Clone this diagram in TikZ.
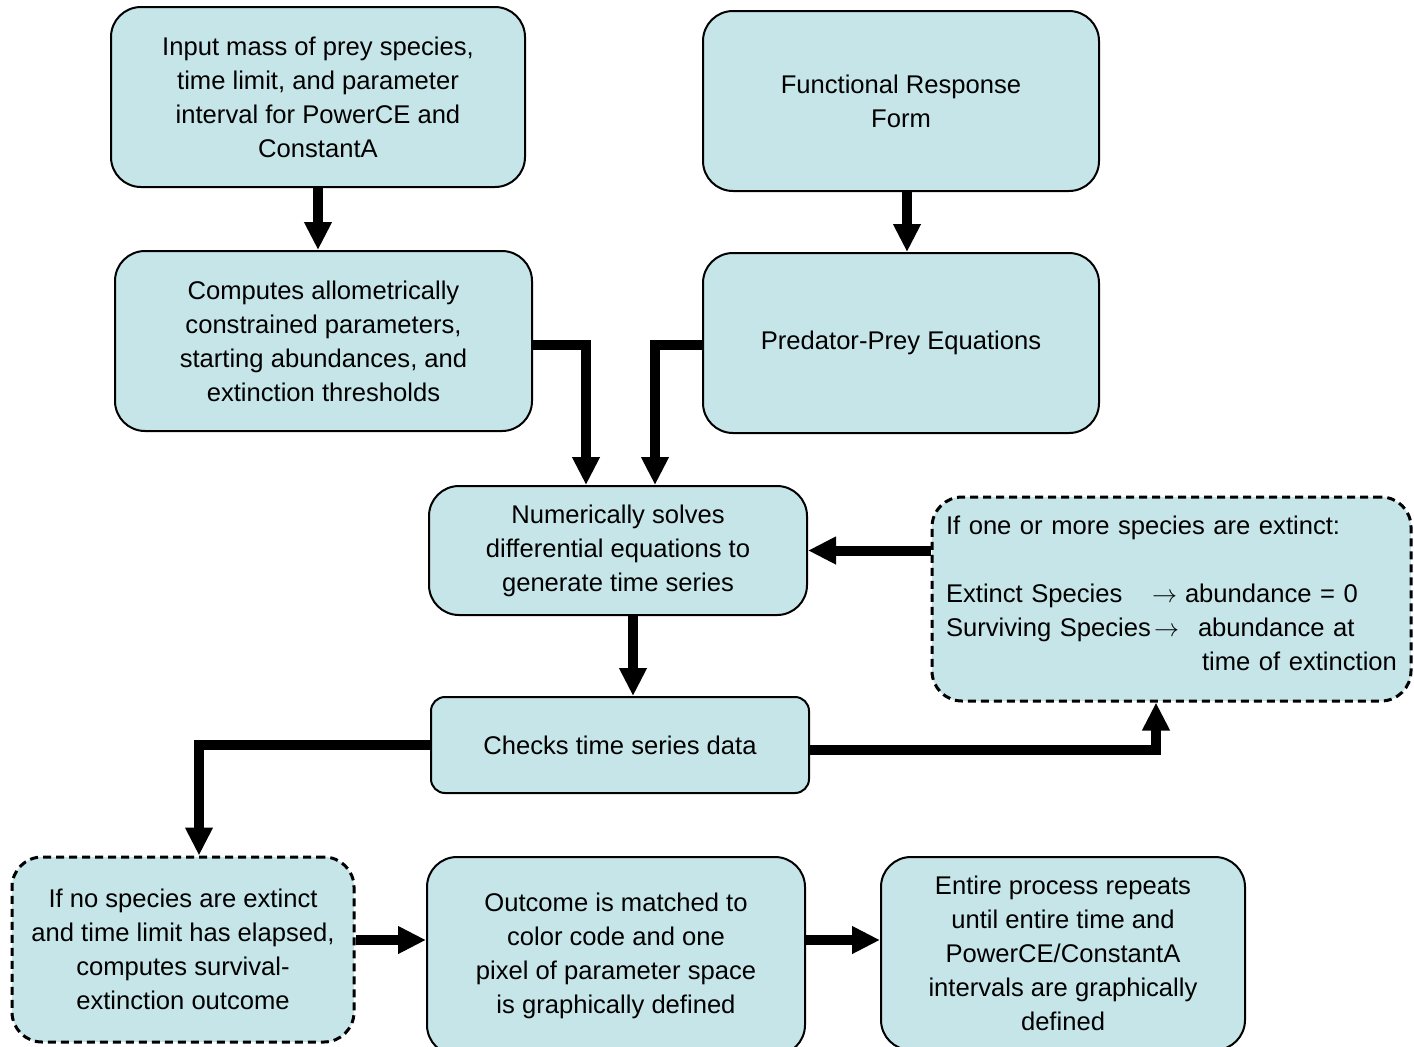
\documentclass[tikz,border=0pt]{standalone}
\usepackage{fontspec}
\setmainfont{Liberation Sans}
\usetikzlibrary{arrows.meta}
\definecolor{boxfill}{RGB}{197,229,232}
\newcommand{\thinarrow}{\resizebox{12.5pt}{!}{$\rightarrow$}}
\begin{document}
\begin{tikzpicture}[x=0.5pt,y=-0.5pt,
  box/.style={draw=black, line width=1pt, fill=boxfill, rounded corners=15pt,
    align=center, inner sep=0pt, font=\fontsize{12.8pt}{17pt}\selectfont},
  dashbox/.style={box, line width=1.5pt, dash pattern=on 4pt off 2.5pt},
  flow/.style={line width=5pt, -{Triangle[length=14pt,width=13pt]}}
]
\useasboundingbox (0,0) rectangle (1414,1046);

% top row
\node[box, minimum width=207pt, minimum height=90pt] (inp) at (318,97)
  {Input mass of prey species,\\time limit, and parameter\\interval for PowerCE and\\ConstantA};
\node[box, minimum width=198pt, minimum height=90pt] (func) at (901,101)
  {Functional Response\\Form};

% second row
\node[box, minimum width=208.5pt, minimum height=90pt] (comp) at (323.5,341)
  {Computes allometrically\\constrained parameters,\\starting abundances, and\\extinction thresholds};
\node[box, minimum width=198pt, minimum height=90pt] (pred) at (901,343)
  {Predator-Prey Equations};

% solver and the extinction branch
\node[box, minimum width=189pt, minimum height=64.5pt] (num) at (618,550.5)
  {Numerically solves\\differential equations to\\generate time series};
\node[dashbox, minimum width=239.5pt, minimum height=102pt, inner xsep=7pt,
      text width=225.5pt, text depth=74pt, align=left] (ext) at (1171.5,599)
  {If one or more species are extinct:\\[17pt]
   \makebox[103pt][l]{Extinct Species}\thinarrow\hspace{4pt}abundance = 0\\
   \makebox[104pt][l]{Surviving Species}\thinarrow\hspace{9.5pt}abundance at\\
   \hspace*{128pt}time of extinction};

\node[box, rounded corners=7pt, minimum width=189pt, minimum height=48pt] (chk) at (620,745)
  {Checks time series data};

% bottom row
\node[dashbox, minimum width=171pt, minimum height=92.5pt] (ifno) at (183,949.5)
  {If no species are extinct\\and time limit has elapsed,\\computes survival-\\extinction outcome};
\node[box, minimum width=189pt, minimum height=99pt] (out) at (616,956)
  {Outcome is matched to\\color code and one\\pixel of parameter space\\is graphically defined};
\node[box, minimum width=182pt, minimum height=96.5pt] (ent) at (1063,953.5)
  {Entire process repeats\\until entire time and\\PowerCE/ConstantA\\intervals are graphically\\defined};

% connectors
\coordinate (row) at (0,940);
\draw[flow] (inp.south) -- (inp.south |- comp.north);
\draw[flow] ([xshift=3pt]func.south) -- ([xshift=3pt]func.south |- pred.north);
\draw[flow] ([yshift=-2pt]comp.east) -| ([xshift=-16pt]num.north);
\draw[flow] ([yshift=-1pt]pred.west) -| ([xshift=18.5pt]num.north);
\draw[flow] ([xshift=7.5pt]num.south) -- ([xshift=7.5pt]num.south |- chk.north);
\draw[flow] (num.east -| ext.west) -- (num.east);
\draw[flow] ([yshift=-2.5pt]chk.east) -| ([xshift=-7.75pt]ext.south);
\draw[flow] (chk.west) -| ([xshift=8pt]ifno.north);
\draw[flow] (ifno.east |- row) -- (out.west |- row);
\draw[flow] (out.east |- row) -- (ent.west |- row);
\end{tikzpicture}
\end{document}
